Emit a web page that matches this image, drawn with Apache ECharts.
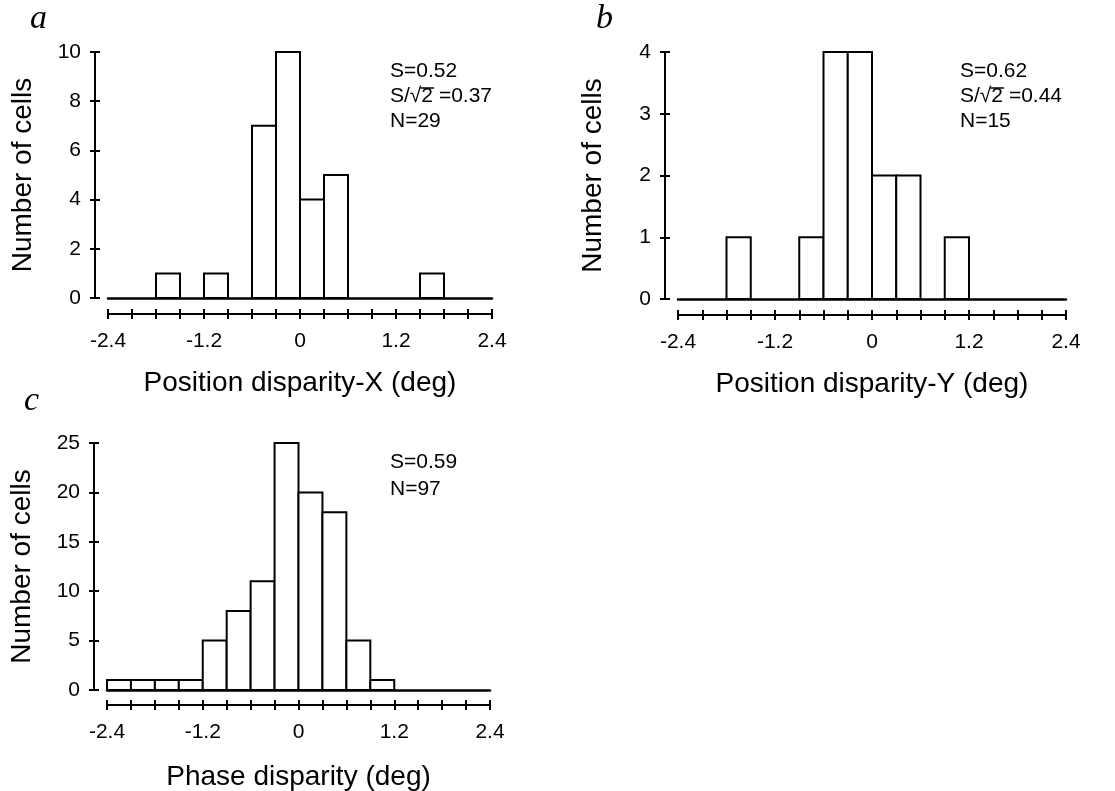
<!DOCTYPE html>
<html>
<head>
<meta charset="utf-8">
<script src="https://cdn.jsdelivr.net/npm/echarts@6/dist/echarts.min.js"></script>
<style>
  html, body { margin: 0; padding: 0; background: #fff; }
  #main { width: 1115px; height: 791px; }
</style>
</head>
<body>
<div id="main"></div>
<script>
// bin starts (deg), each bin is 0.3 deg wide
const binStarts = [-2.4, -2.1, -1.8, -1.5, -1.2, -0.9, -0.6, -0.3, 0, 0.3, 0.6, 0.9, 1.2, 1.5, 1.8, 2.1];
const binWidth = 0.3;
const countsX = [0, 0, 1, 0, 1, 0, 7, 10, 4, 5, 0, 0, 0, 1, 0, 0];
const countsY = [0, 0, 1, 0, 0, 1, 4, 4, 2, 2, 0, 1, 0, 0, 0, 0];
const countsPhase = [1, 1, 1, 1, 5, 8, 11, 25, 20, 18, 5, 1, 0, 0, 0, 0];
const xTitles = ['Position disparity-X (deg)', 'Position disparity-Y (deg)', 'Phase disparity (deg)'];
const yMax = [10, 4, 25];
const yStep = [2, 1, 5];
const statsA = [['S=0.52'], ['S/\u221A', '2', ' =0.37'], ['N=29']];
const statsB = [['S=0.62'], ['S/\u221A', '2', ' =0.44'], ['N=15']];
const statsC = [['S=0.59'], ['N=97']];

const FONT = '"Liberation Sans", Arial, Helvetica, sans-serif';
const chart = echarts.init(document.getElementById('main'));

const panels = [
  { grid: { left: 108, top: 52, width: 384, height: 246 }, counts: countsX, xOff: 16, xGap: 55 },
  { grid: { left: 678, top: 52, width: 388, height: 247 }, counts: countsY, xOff: 16, xGap: 55 },
  { grid: { left: 107, top: 443, width: 383, height: 247 }, counts: countsPhase, xOff: 15, xGap: 58 }
];

const grids = [], xAxes = [], yAxes = [], series = [];
const line = { show: true, lineStyle: { color: '#000', width: 2 } };

const tickLabel = v => {
  const r = v / 1.2;
  return Math.abs(r - Math.round(r)) < 1e-6 ? String(+v.toFixed(1)) : '';
};

panels.forEach((p, i) => {
  grids.push(Object.assign({ outerBoundsMode: 'none', containLabel: false }, p.grid));
  const baseX = { type: 'value', gridIndex: i, min: -2.4, max: 2.4, interval: 0.3, splitLine: { show: false } };
  // baseline at zero
  xAxes.push(Object.assign({}, baseX, {
    position: 'bottom', axisLine: { show: true, onZero: false, lineStyle: { color: '#000', width: 2.5 } },
    axisTick: { show: false }, axisLabel: { show: false }
  }));
  // detached axis, inner half of ticks
  xAxes.push(Object.assign({}, baseX, {
    position: 'bottom', offset: p.xOff, axisLine: Object.assign({ onZero: false }, line),
    axisTick: { show: true, inside: true, length: 5, lineStyle: { color: '#000', width: 2 } },
    axisLabel: { show: false }
  }));
  // outer half of ticks, labels, name
  xAxes.push(Object.assign({}, baseX, {
    position: 'bottom', offset: p.xOff, axisLine: Object.assign({ onZero: false }, line),
    axisTick: { show: true, length: 5, lineStyle: { color: '#000', width: 2 } },
    axisLabel: { show: true, color: '#000', fontSize: 21, fontFamily: FONT, margin: 17, formatter: tickLabel, showMinLabel: true, showMaxLabel: true },
    name: xTitles[i], nameLocation: 'middle', nameGap: p.xGap,
    nameTextStyle: { color: '#000', fontSize: 28, fontFamily: FONT }
  }));
  const baseY = { type: 'value', gridIndex: i, min: 0, max: yMax[i], interval: yStep[i], splitLine: { show: false }, position: 'left', offset: 13 };
  yAxes.push(Object.assign({}, baseY, {
    axisLine: Object.assign({ onZero: false }, line),
    axisTick: { show: true, inside: true, length: 5, lineStyle: { color: '#000', width: 2 } },
    axisLabel: { show: false }
  }));
  yAxes.push(Object.assign({}, baseY, {
    axisLine: Object.assign({ onZero: false }, line),
    axisTick: { show: true, length: 5, lineStyle: { color: '#000', width: 2 } },
    axisLabel: { show: true, color: '#000', fontSize: 21, fontFamily: FONT, margin: 14 },
    name: 'Number of cells', nameLocation: 'middle', nameGap: 58,
    nameTextStyle: { color: '#000', fontSize: 28, fontFamily: FONT }
  }));
  const data = [];
  binStarts.forEach((s, k) => {
    if (p.counts[k] > 0) data.push([s, s + binWidth, p.counts[k]]);
  });
  series.push({
    type: 'custom',
    xAxisIndex: i * 3,
    yAxisIndex: i * 2 + 1,
    encode: { x: [0, 1], y: 2 },
    data: data,
    silent: true,
    renderItem: (params, api) => {
      const p0 = api.coord([api.value(0), api.value(2)]);
      const p1 = api.coord([api.value(1), 0]);
      return {
        type: 'rect',
        shape: { x: p0[0], y: p0[1], width: p1[0] - p0[0], height: p1[1] - p0[1] },
        style: { fill: '#fff', stroke: '#000', lineWidth: 2 }
      };
    }
  });
});

const graphic = [];
const letter = (t, x, y) => graphic.push({
  type: 'text', left: x, top: y,
  style: { text: t, font: 'italic 34px "Liberation Serif", "Times New Roman", serif', fill: '#000' }
});
letter('a', 30, 2);
letter('b', 596, 2);
letter('c', 24, 384);

// annotation text; the middle piece of a 3-part line gets an overbar (square root sign)
const STAT_FONT = '21px ' + FONT;
const ctx = document.createElement('canvas').getContext('2d');
ctx.font = STAT_FONT;
const stats = (lines, x, y0, dy) => lines.forEach((parts, k) => {
  const y = y0 + k * dy;
  graphic.push({ type: 'text', left: x, top: y, style: { text: parts.join(''), font: STAT_FONT, fill: '#000' } });
  if (parts.length === 3) {
    const x0 = x + ctx.measureText(parts[0]).width - 1;
    const x1 = x + ctx.measureText(parts[0] + parts[1]).width + 1;
    graphic.push({ type: 'line', shape: { x1: x0, y1: y + 2, x2: x1, y2: y + 2 }, style: { stroke: '#000', lineWidth: 1.5 } });
  }
});
stats(statsA, 390, 61, 25);
stats(statsB, 960, 61, 25);
stats(statsC, 390, 452, 27);

chart.setOption({
  backgroundColor: '#fff',
  animation: false,
  grid: grids,
  xAxis: xAxes,
  yAxis: yAxes,
  series: series,
  graphic: graphic
});
</script>
</body>
</html>
